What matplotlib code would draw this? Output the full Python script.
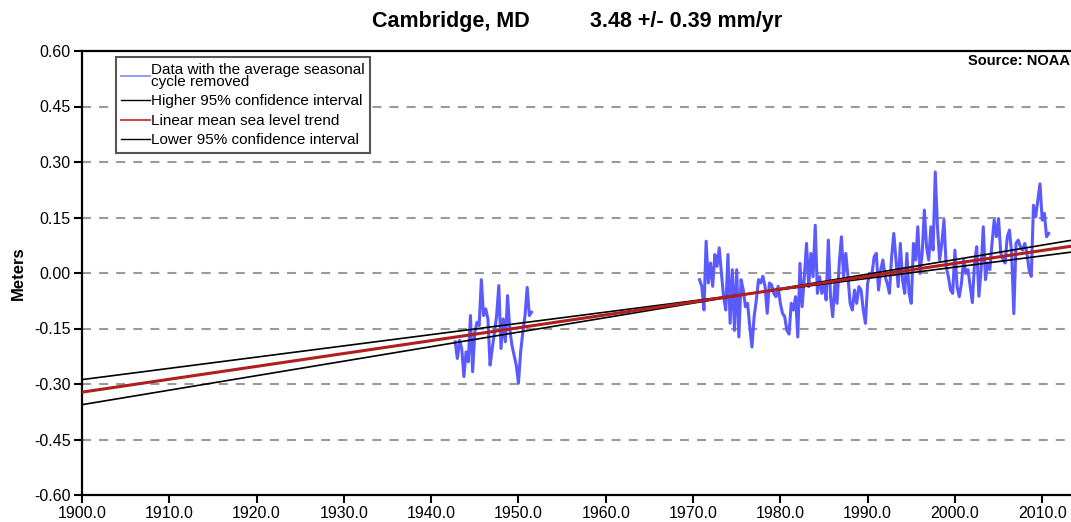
import numpy as np
import matplotlib
matplotlib.use("Agg")
import matplotlib.pyplot as plt
from matplotlib.lines import Line2D
from matplotlib.ticker import FormatStrFormatter

plt.rcParams['font.family'] = ['Liberation Sans', 'DejaVu Sans']
plt.rcParams['lines.scale_dashes'] = False

# --- values (quarterly samples, metres) ---
step = 0.25
seg1_start = 1942.75
seg1_vals = [-0.186, -0.231, -0.182, -0.204, -0.280, -0.213, -0.240, -0.115, -0.267,
             -0.160, -0.133, -0.142, -0.018, -0.115, -0.097, -0.124, -0.249, -0.204,
             -0.160, -0.115, -0.034, -0.204, -0.124, -0.186, -0.061, -0.150, -0.195,
             -0.222, -0.249, -0.298, -0.213, -0.160, -0.115, -0.039, -0.115, -0.106]

seg2_start = 1970.75
seg2_vals = [
    # 1970.75 - 1980.75
    -0.018, -0.036, -0.100, 0.086, -0.027, 0.027, -0.036, 0.050, 0.018, 0.068, 0.000,
    -0.064, -0.100, 0.050, -0.136, 0.009, -0.155, 0.009, -0.173, -0.018, -0.045,
    -0.091, -0.082, -0.145, -0.200, -0.118, -0.073, -0.018, -0.027, -0.009, -0.036,
    -0.109, -0.027, -0.032, -0.055, -0.064, -0.036, -0.082, -0.109, -0.118, -0.155,
    # 1981.0 - 1991.0
    -0.165, -0.082, -0.100, -0.064, -0.173, 0.026, -0.091, -0.010, 0.080, -0.037,
    0.053, -0.010, 0.129, -0.055, -0.010, -0.055, -0.028, -0.073, 0.089, -0.064,
    -0.118, -0.028, -0.082, 0.026, 0.098, -0.010, 0.053, -0.010, -0.082, -0.100,
    -0.046, -0.082, -0.037, -0.046, -0.100, -0.136, -0.028, -0.001, -0.001, 0.044, 0.053,
    # 1991.25 - 2001.25
    -0.046, 0.008, 0.035, -0.010, -0.028, -0.055, 0.044, 0.107, 0.035, -0.037,
    0.080, -0.019, -0.055, 0.053, -0.055, -0.082, 0.080, 0.035, 0.125, -0.001,
    0.053, 0.170, 0.071, 0.035, 0.125, 0.062, 0.273, 0.125, 0.035, 0.080,
    0.143, 0.017, -0.010, -0.046, -0.055, 0.062, -0.037, -0.064, -0.028, 0.035, -0.001,
    # 2001.5 - 2010.75
    0.009, -0.036, -0.080, 0.027, 0.071, -0.063, 0.009, 0.125, -0.018, 0.027,
    0.009, 0.080, 0.143, 0.098, 0.147, 0.054, 0.036, 0.027, 0.098, 0.116,
    0.054, -0.110, 0.080, 0.089, 0.071, 0.062, 0.080, 0.054, 0.009, -0.009,
    0.183, 0.152, 0.196, 0.241, 0.143, 0.161, 0.098, 0.107]

# trend: 3.48 mm/yr, level at 1900; CI lines pivot near 1977
trend_rate = 3.48     # mm/yr
trend_1900 = -0.322   # m
ci_rate = 0.44        # mm/yr (as drawn)
ci_pivot = 1977.0

x_min, x_max = 1900.0, 2013.3
y_ticks = [-0.60, -0.45, -0.30, -0.15, 0.00, 0.15, 0.30, 0.45, 0.60]
x_ticks = list(range(1900, 2011, 10))

# --- figure ---
fig = plt.figure(figsize=(10.71, 5.22), dpi=100)
ax = fig.add_axes([82 / 1071, 27 / 522, 989 / 1071, 444 / 522])

for y in y_ticks[1:-1]:
    ax.axhline(y, color='#9a9a9a', lw=1.5, dashes=(6.5, 5.8), zorder=1)

t1 = seg1_start + step * np.arange(len(seg1_vals))
t2 = seg2_start + step * np.arange(len(seg2_vals))
blue = '#5a5aff'
ax.plot(t1, seg1_vals, color=blue, lw=2.2, zorder=2)
ax.plot(t2, seg2_vals, color=blue, lw=2.2, zorder=2)

tl = np.array([x_min, x_max])
trend = trend_1900 + trend_rate / 1000 * (tl - 1900)
ci = ci_rate / 1000 * (tl - ci_pivot)
ax.plot(tl, trend - ci, color='black', lw=1.2, zorder=3)
ax.plot(tl, trend + ci, color='black', lw=1.2, zorder=3)
ax.plot(tl, trend, color='#b01e1e', lw=2.2, zorder=4)

ax.set_xlim(x_min, x_max)
ax.set_ylim(-0.60, 0.60)
ax.set_yticks(y_ticks)
ax.set_xticks(x_ticks)
ax.yaxis.set_major_formatter(FormatStrFormatter('%.2f'))
ax.xaxis.set_major_formatter(FormatStrFormatter('%.1f'))
ax.tick_params(axis='both', direction='out', length=6, width=1.5, labelsize=11.5, pad=2)
ax.spines['right'].set_visible(False)
for s in ['left', 'bottom', 'top']:
    ax.spines[s].set_linewidth(1.6)
ax.set_ylabel('Meters', fontsize=12, fontweight='bold', labelpad=6)

handles = [Line2D([], [], color='#9a9aff', lw=1.5),
           Line2D([], [], color='black', lw=1),
           Line2D([], [], color='#c05050', lw=1.5),
           Line2D([], [], color='black', lw=1)]
labels = ['Data with the average seasonal\ncycle removed',
          'Higher 95% confidence interval',
          'Linear mean sea level trend',
          'Lower 95% confidence interval']
leg = ax.legend(handles, labels, loc='upper left', bbox_to_anchor=(0.034, 0.986),
                borderaxespad=0, fontsize=11, frameon=True, fancybox=False,
                framealpha=1, edgecolor='#555555', handlelength=1.9,
                handletextpad=0.05, labelspacing=0.36, borderpad=0.35)
leg.get_frame().set_linewidth(1.5)
for txt in leg.get_texts():
    txt.set_linespacing(0.85)

fig.text(968 / 1071, 1 - 61 / 522, 'Source: NOAA', fontsize=10.5,
         fontweight='bold', ha='left', va='center')

fig.text(372 / 1071, 1 - 21 / 522, 'Cambridge, MD', fontsize=15.5,
         fontweight='bold', ha='left', va='center')
fig.text(590 / 1071, 1 - 21 / 522, '3.48 +/- 0.39 mm/yr', fontsize=15.5,
         fontweight='bold', ha='left', va='center')

fig.savefig('out.png', dpi=100)
